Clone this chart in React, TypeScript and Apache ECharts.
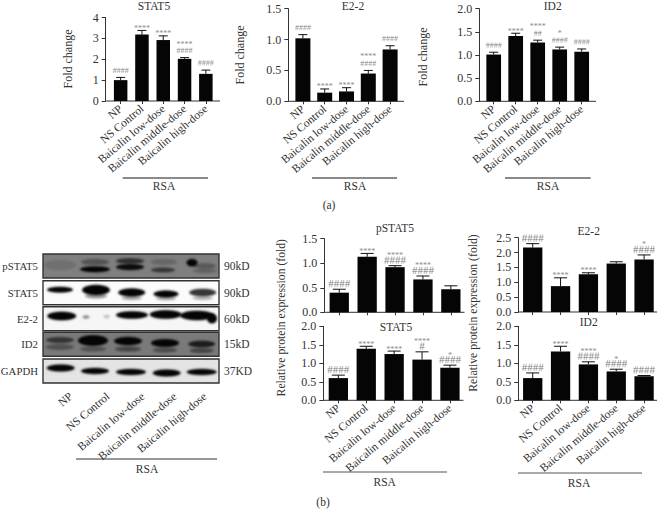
import React, { useEffect, useRef } from "react";
import * as echarts from "echarts";

const groups = ["NP", "NS Control", "Baicalin low-dose", "Baicalin middle-dose", "Baicalin high-dose"];

const foldStat5 = [1.0, 3.18, 2.92, 2.02, 1.3];
const foldStat5Err = [1.13, 3.38, 3.12, 2.08, 1.48];
const foldStat5Stars = ["", "****", "****", "****", ""];
const foldStat5Hash = ["####", "", "", "####", "####"];

const foldE22 = [1.02, 0.14, 0.16, 0.45, 0.84];
const foldE22Err = [1.08, 0.2, 0.22, 0.5, 0.9];
const foldE22Stars = ["", "****", "****", "****", ""];
const foldE22Hash = ["####", "", "", "####", "####"];

const foldId2 = [1.01, 1.41, 1.27, 1.12, 1.07];
const foldId2Err = [1.06, 1.47, 1.32, 1.17, 1.13];
const foldId2Stars = ["", "****", "****", "*", ""];
const foldId2Hash = ["####", "", "##", "####", "####"];

const protPstat5 = [0.4, 1.13, 0.92, 0.67, 0.47];
const protPstat5Err = [0.47, 1.2, 0.95, 0.74, 0.54];
const protPstat5Stars = ["", "****", "****", "****", ""];
const protPstat5Hash = ["####", "", "####", "####", ""];

const protStat5 = [0.6, 1.39, 1.25, 1.1, 0.88];
const protStat5Err = [0.68, 1.46, 1.33, 1.31, 0.95];
const protStat5Stars = ["", "****", "****", "****", "*"];
const protStat5Hash = ["####", "", "", "#", "####"];

const protE22 = [2.17, 0.87, 1.27, 1.63, 1.77];
const protE22Err = [2.3, 1.15, 1.32, 1.69, 1.92];
const protE22Stars = ["", "****", "****", "", "*"];
const protE22Hash = ["####", "", "", "", "####"];

const protId2 = [0.6, 1.32, 0.97, 0.78, 0.65];
const protId2Err = [0.74, 1.46, 1.04, 0.84, 0.67];
const protId2Stars = ["", "****", "****", "*", ""];
const protId2Hash = ["####", "", "####", "####", "####"];

const blotNames = ["pSTAT5", "STAT5", "E2-2", "ID2", "GAPDH"];
const blotSizes = ["90kD", "90kD", "60kD", "15kD", "37KD"];

const FONT = '"Liberation Serif", serif';
const INK = "#333333";
const GREY = "#8a8a8a";

type Panel = {
  title: string; values: number[]; err: number[]; stars: string[]; hash: string[];
  max: number; step: number; dec: number;
  left: number; top: number; bandW: number; h: number; axisX: number; endX: number;
  barW: number; capW: number; hashSize: number; titleX: number; titleY: number; showLabels: boolean;
};

const panels: Panel[] = [
  { title: "STAT5", values: foldStat5, err: foldStat5Err, stars: foldStat5Stars, hash: foldStat5Hash, max: 4, step: 1, dec: 0,
    left: 110, top: 17.5, bandW: 21.3, h: 83.5, axisX: 105.7, endX: 220, barW: 13.5, capW: 9, hashSize: 8, titleX: 154, titleY: 6, showLabels: true },
  { title: "E2-2", values: foldE22, err: foldE22Err, stars: foldE22Stars, hash: foldE22Hash, max: 1.5, step: 0.5, dec: 1,
    left: 292, top: 8.7, bandW: 21.8, h: 92.6, axisX: 288.3, endX: 404, barW: 15, capW: 9, hashSize: 8, titleX: 353, titleY: 6, showLabels: true },
  { title: "ID2", values: foldId2, err: foldId2Err, stars: foldId2Stars, hash: foldId2Hash, max: 2, step: 0.5, dec: 1,
    left: 482.7, top: 8.7, bandW: 22, h: 92.6, axisX: 479.3, endX: 596, barW: 14.7, capW: 9, hashSize: 8, titleX: 552.7, titleY: 6, showLabels: true },
  { title: "pSTAT5", values: protPstat5, err: protPstat5Err, stars: protPstat5Stars, hash: protPstat5Hash, max: 1.5, step: 0.5, dec: 1,
    left: 325.3, top: 238.7, bandW: 27.9, h: 73.6, axisX: 324.3, endX: 464.5, barW: 19.3, capW: 13, hashSize: 11, titleX: 395, titleY: 228, showLabels: false },
  { title: "STAT5", values: protStat5, err: protStat5Err, stars: protStat5Stars, hash: protStat5Hash, max: 2, step: 0.5, dec: 1,
    left: 324.4, top: 326.3, bandW: 27.9, h: 74, axisX: 323.3, endX: 463.5, barW: 19.3, capW: 13, hashSize: 11, titleX: 396, titleY: 327, showLabels: true },
  { title: "E2-2", values: protE22, err: protE22Err, stars: protE22Stars, hash: protE22Hash, max: 2.5, step: 0.5, dec: 1,
    left: 518.8, top: 237.7, bandW: 27.9, h: 74.3, axisX: 518.3, endX: 657, barW: 19.3, capW: 13, hashSize: 11, titleX: 588.7, titleY: 231, showLabels: false },
  { title: "ID2", values: protId2, err: protId2Err, stars: protId2Stars, hash: protId2Hash, max: 2, step: 0.5, dec: 1,
    left: 518.8, top: 326.3, bandW: 27.9, h: 74, axisX: 518.3, endX: 657, barW: 19.3, capW: 13, hashSize: 11, titleX: 588.7, titleY: 321.7, showLabels: true },
];

// Band sketch of the photographed blot: panel top, background, then [cx, cy, rx, ry, strength].
type Band = number[];
const blotFrameX = 43;
const blotFrameW = 176;
const blotFrameH = 24;
const blotPanels: { top: number; bg: string; bands: Band[] }[] = [
  { top: 254, bg: "#7f7f7f", bands: [
    [60, 265, 16, 5, 0.12], [95, 262, 14, 3.2, 0.35], [95, 269.3, 15, 3, 1],
    [130, 261, 14, 2.8, 0.65], [130, 267, 14, 3.2, 0.95], [164, 262, 13, 3, 0.2], [163, 270, 12, 2.4, 0.6],
    [192, 262.7, 5.5, 3.8, 1], [205, 266, 11, 3, 0.3], [205, 271, 12, 2, 0.25] ] },
  { top: 280.7, bg: "#fbfbfb", bands: [
    [60, 289.7, 13, 3, 1], [96, 290, 14, 5.2, 1], [96, 296, 11, 2.5, 0.4],
    [131.7, 292.5, 13.5, 4.2, 1], [131.7, 298, 10, 2, 0.35],
    [166, 294, 12.5, 3.6, 1], [166, 298.5, 10, 2, 0.3], [202.7, 292.5, 13.5, 3.8, 0.8], [202.7, 298, 10, 2, 0.3] ] },
  { top: 306.7, bg: "#f6f6f6", bands: [
    [61.7, 316, 14.5, 4.4, 1], [86, 317, 3.5, 1.6, 0.45], [106.7, 316.5, 3, 1.5, 0.25],
    [132, 315, 16, 3.8, 1], [165.7, 314.5, 16, 4.4, 1], [197, 315.5, 17, 4.8, 1], [212, 318.5, 5, 5, 1] ] },
  { top: 332.3, bg: "#7a7a7a", bands: [
    [60, 340, 14, 3, 0.6], [60, 347, 14, 3, 0.35], [93, 340.5, 15, 5.4, 1], [93, 349, 13, 2.5, 0.35],
    [128, 341, 14, 4.2, 1], [128, 349, 13, 2.5, 0.45], [165, 343, 14, 4, 1], [165, 350, 12, 2.5, 0.4],
    [201.7, 344, 13.5, 3.4, 0.8], [201.7, 350.5, 12, 2.5, 0.45] ] },
  { top: 359, bg: "#e4e4e4", bands: [
    [60.7, 368, 14, 3.6, 1], [95, 371, 14, 3.2, 1], [131, 372, 15, 3.2, 1], [166.7, 373, 14, 3.6, 1], [201.7, 372, 15, 3.2, 1] ] },
];

function blotImage(panel: { top: number; bg: string; bands: Band[] }) {
  const scale = 3;
  const c = document.createElement("canvas");
  c.width = blotFrameW * scale;
  c.height = blotFrameH * scale;
  const ctx = c.getContext("2d") as CanvasRenderingContext2D;
  ctx.fillStyle = panel.bg;
  ctx.fillRect(0, 0, c.width, c.height);
  ctx.filter = "blur(3px)";
  panel.bands.forEach(([cx, cy, rx, ry, a]) => {
    ctx.fillStyle = `rgba(5,5,5,${a})`;
    ctx.beginPath();
    ctx.ellipse((cx - blotFrameX) * scale, (cy - panel.top) * scale, rx * scale, ry * scale, 0, 0, Math.PI * 2);
    ctx.fill();
  });
  return c.toDataURL("image/png");
}

function text(str: string, x: number, y: number, extra: any = {}) {
  return {
    type: "text", x, y, rotation: extra.rotation || 0, silent: true,
    style: { text: str, fill: INK, fontFamily: FONT, fontSize: extra.fontSize || 11.5,
      textAlign: extra.align || "center", textVerticalAlign: extra.valign || "middle" },
  };
}

function hline(x1: number, x2: number, y: number, stroke: string, lineWidth: number) {
  return { type: "line", silent: true, shape: { x1, y1: y, x2, y2: y }, style: { stroke, lineWidth } };
}

function buildOption() {
  const grid: any[] = [];
  const xAxis: any[] = [];
  const yAxis: any[] = [];
  const series: any[] = [];
  const title: any[] = [];
  const graphic: any[] = [];

  panels.forEach((p, i) => {
    grid.push({ left: p.left, top: p.top, width: p.bandW * 5, height: p.h, containLabel: false });
    xAxis.push({
      type: "category", gridIndex: i, data: groups,
      axisLine: { show: false },
      axisTick: { show: true, alignWithLabel: true, length: 3, lineStyle: { color: INK, width: 1 } },
      axisLabel: { show: p.showLabels, interval: 0, rotate: 40, margin: 6, color: INK, fontFamily: FONT, fontSize: 11.5, hideOverlap: false },
    });
    yAxis.push({
      type: "value", gridIndex: i, min: 0, max: p.max, interval: p.step, offset: p.left - p.axisX,
      splitLine: { show: false },
      axisLine: { show: true, lineStyle: { color: INK, width: 1 } },
      axisTick: { show: true, length: 4, lineStyle: { color: INK, width: 1 } },
      axisLabel: { margin: 7, color: INK, fontFamily: FONT, fontSize: 12, formatter: (v: number) => v.toFixed(p.dec) },
    });
    series.push({
      type: "bar", xAxisIndex: i, yAxisIndex: i, data: p.values, barWidth: p.barW,
      itemStyle: { color: "#050505" }, silent: true,
    });
    series.push({
      type: "custom", xAxisIndex: i, yAxisIndex: i, silent: true, clip: false, z: 5,
      data: p.err.map((e, k) => [k, e, p.values[k]]),
      encode: { x: 0, y: 1 },
      renderItem: (params: any, api: any) => {
        const k = params.dataIndex;
        const [x, yTop] = api.coord([api.value(0), api.value(1)]);
        const [, yBar] = api.coord([api.value(0), api.value(2)]);
        const lineStyle = { stroke: "#111111", lineWidth: 1 };
        const children: any[] = [
          { type: "line", shape: { x1: x, y1: yBar, x2: x, y2: yTop }, style: lineStyle },
          { type: "line", shape: { x1: x - p.capW / 2, y1: yTop, x2: x + p.capW / 2, y2: yTop }, style: lineStyle },
        ];
        const big = p.hashSize >= 10;
        const h = p.hash[k];
        if (h) {
          children.push({ type: "text", x, y: yTop + (big ? -0.5 : -3), rotation: 0.002, style: { text: h, x: 0, y: 0, textAlign: "center", textVerticalAlign: "bottom", fill: "#7f7f7f", fontFamily: FONT, fontSize: p.hashSize } });
        }
        const s = p.stars[k];
        if (s) {
          const dy = h ? (big ? -6 : -9.5) : 2;
          children.push({ type: "text", style: { text: s, x, y: yTop + dy, textAlign: "center", textVerticalAlign: "bottom", fill: "#8a8a8a", fontFamily: FONT, fontSize: 8 } });
        }
        return { type: "group", children };
      },
    });
    title.push({
      text: p.title, left: p.titleX, top: p.titleY, textAlign: "center", textVerticalAlign: "middle", padding: 0,
      textStyle: { color: INK, fontFamily: FONT, fontSize: 11.5, fontWeight: "normal" },
    });
    const yBase = p.top + p.h;
    graphic.push(hline(p.axisX, p.endX, yBase, INK, 1));
  });

  // y-axis captions
  graphic.push(text("Fold change", 68, 59, { rotation: Math.PI / 2, fontSize: 12 }));
  graphic.push(text("Fold change", 240, 55, { rotation: Math.PI / 2, fontSize: 12 }));
  graphic.push(text("Fold change", 423, 57, { rotation: Math.PI / 2, fontSize: 12 }));
  graphic.push(text("Relative protein expression (fold)", 281.7, 317.7, { rotation: Math.PI / 2, fontSize: 11.7 }));
  graphic.push(text("Relative protein expression (fold)", 473, 313, { rotation: Math.PI / 2, fontSize: 11.7 }));

  // RSA brackets
  graphic.push(hline(122.7, 208, 178, GREY, 2), text("RSA", 164, 186));
  graphic.push(hline(312, 397, 178, GREY, 2), text("RSA", 355, 186));
  graphic.push(hline(505, 590.7, 178, GREY, 2), text("RSA", 548, 186));
  graphic.push(hline(323, 447, 472, "#555555", 1), text("RSA", 384.7, 481.7));
  graphic.push(hline(518, 642, 473, "#555555", 1), text("RSA", 579, 482.6));
  graphic.push(hline(76, 217, 459, "#333333", 1), text("RSA", 147, 469));

  graphic.push(text("(a)", 329, 205));
  graphic.push(text("(b)", 323, 502));

  // blot
  blotPanels.forEach((bp, i) => {
    graphic.push({ type: "image", silent: true, style: { image: blotImage(bp), x: blotFrameX, y: bp.top, width: blotFrameW, height: blotFrameH } });
    graphic.push({ type: "rect", silent: true, shape: { x: blotFrameX, y: bp.top, width: blotFrameW, height: blotFrameH }, style: { fill: "none", stroke: "#333333", lineWidth: 1.4 } });
    graphic.push(text(blotNames[i], 38, bp.top + 12, { align: "right", fontSize: 10.8 }));
    graphic.push(text(blotSizes[i], 224, bp.top + 12, { align: "left" }));
  });
  const blotLabelEndX = [67, 104, 139, 171, 201];
  groups.forEach((g, i) => {
    graphic.push(text(g, blotLabelEndX[i], 390, { align: "right", valign: "top", rotation: (40 * Math.PI) / 180 }));
  });

  return { animation: false, backgroundColor: "#ffffff", grid, xAxis, yAxis, series, title, graphic: { elements: graphic } };
}

export default function App() {
  const ref = useRef<HTMLDivElement>(null);
  useEffect(() => {
    document.body.style.margin = "0";
    const chart = echarts.init(ref.current as HTMLDivElement, undefined, { renderer: "svg" });
    chart.setOption(buildOption() as any);
    return () => chart.dispose();
  }, []);
  return <div ref={ref} style={{ width: 658, height: 510, opacity: 0.999 }} />;
}
